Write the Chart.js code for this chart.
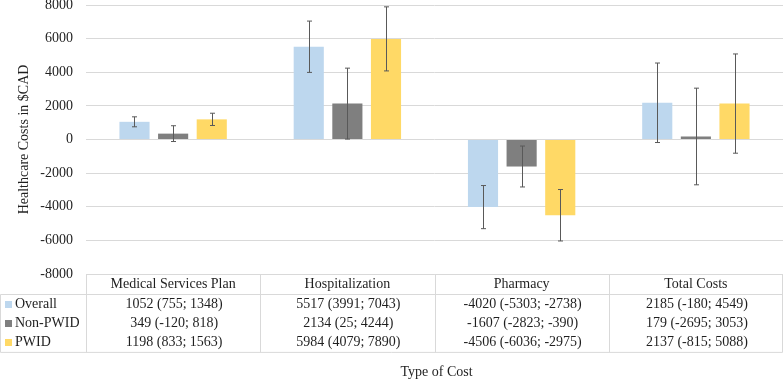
<!DOCTYPE html>
<html>
<head>
<meta charset="utf-8">
<script src="https://cdn.jsdelivr.net/npm/chart.js@4"></script>
<style>
  html, body { margin: 0; padding: 0; background: #ffffff; }
  #wrap { width: 783px; height: 379px; position: relative; }
</style>
</head>
<body>
<div id="wrap"><canvas id="c" width="783" height="379"></canvas></div>
<script>
const categories = ['Medical Services Plan', 'Hospitalization', 'Pharmacy', 'Total Costs'];
const seriesNames = ['Overall', 'Non-PWID', 'PWID'];

const overall     = [1052, 5517, -4020, 2185];
const overallLow  = [755, 3991, -5303, -180];
const overallHigh = [1348, 7043, -2738, 4549];

const nonPwid     = [349, 2134, -1607, 179];
const nonPwidLow  = [-120, 25, -2823, -2695];
const nonPwidHigh = [818, 4244, -390, 3053];

const pwid     = [1198, 5984, -4506, 2137];
const pwidLow  = [833, 4079, -6036, -815];
const pwidHigh = [1563, 7890, -2975, 5088];

const yTicks = [-8000, -6000, -4000, -2000, 0, 2000, 4000, 6000, 8000];

const colors = ['#BDD7EE', '#7F7F7F', '#FFD966'];
const FONT = "'Liberation Serif', 'Times New Roman', serif";
const TEXT = '#1f1f1f';
const GRID = '#D9D9D9';

const seriesVals = [overall, nonPwid, pwid];
const seriesLow = [overallLow, nonPwidLow, pwidLow];
const seriesHigh = [overallHigh, nonPwidHigh, pwidHigh];

const errorBars = {
  id: 'errorBars',
  afterDatasetsDraw(chart) {
    const ctx = chart.ctx;
    const y = chart.scales.y;
    ctx.save();
    ctx.strokeStyle = '#595959';
    ctx.lineWidth = 1;
    chart.data.datasets.forEach((ds, di) => {
      const meta = chart.getDatasetMeta(di);
      meta.data.forEach((bar, i) => {
        const x = Math.round(bar.x) + 0.5;
        const yl = y.getPixelForValue(seriesLow[di][i]);
        const yh = y.getPixelForValue(seriesHigh[di][i]);
        ctx.beginPath();
        ctx.moveTo(x, yl); ctx.lineTo(x, yh);
        ctx.moveTo(x - 2.5, yl); ctx.lineTo(x + 2.5, yl);
        ctx.moveTo(x - 2.5, yh); ctx.lineTo(x + 2.5, yh);
        ctx.stroke();
      });
    });
    ctx.restore();
  }
};

const dataTable = {
  id: 'dataTable',
  afterDraw(chart) {
    const ctx = chart.ctx;
    const xs = chart.scales.x;
    const area = chart.chartArea;
    const n = categories.length;
    const step = (area.right - area.left) / n;
    const top = Math.round(area.bottom) + 0.5;
    const headerH = 20;
    const rowH = 19.3;
    const bottom = top + headerH + rowH * seriesNames.length;
    const right = 782.5;
    ctx.save();
    ctx.strokeStyle = GRID;
    ctx.lineWidth = 1;
    ctx.beginPath();
    ctx.moveTo(Math.round(area.left) + 0.5, top); ctx.lineTo(right, top);
    ctx.moveTo(0.5, top + headerH); ctx.lineTo(right, top + headerH);
    ctx.moveTo(0.5, bottom); ctx.lineTo(right, bottom);
    ctx.moveTo(0.5, top + headerH); ctx.lineTo(0.5, bottom);
    for (let i = 0; i <= n; i++) {
      const xv = i === n ? right : Math.round(area.left + step * i) + 0.5;
      ctx.moveTo(xv, top); ctx.lineTo(xv, bottom);
    }
    ctx.stroke();

    ctx.fillStyle = TEXT;
    ctx.font = '14px ' + FONT;
    ctx.textAlign = 'center';
    ctx.textBaseline = 'middle';
    categories.forEach((c, i) => {
      const cx = xs.getPixelForValue(i);
      ctx.fillText(c, cx, top + headerH / 2);
    });
    seriesNames.forEach((s, r) => {
      const cy = top + headerH + rowH * r + rowH / 2;
      ctx.fillStyle = colors[r];
      ctx.fillRect(5, Math.round(cy - 3.5), 7, 7);
      ctx.fillStyle = TEXT;
      ctx.textAlign = 'left';
      ctx.fillText(s, 15, cy);
      ctx.textAlign = 'center';
      categories.forEach((c, i) => {
        const cx = xs.getPixelForValue(i);
        const txt = seriesVals[r][i] + ' (' + seriesLow[r][i] + '; ' + seriesHigh[r][i] + ')';
        ctx.fillText(txt, cx + 1, cy);
      });
    });
    ctx.fillText('Type of Cost', (area.left + area.right) / 2 + 2, 372);
    ctx.restore();
  }
};

new Chart(document.getElementById('c'), {
  type: 'bar',
  data: {
    labels: categories,
    datasets: seriesNames.map((name, i) => ({
      label: name,
      data: seriesVals[i],
      backgroundColor: colors[i],
      borderWidth: 0,
      categoryPercentage: 0.665,
      barPercentage: 0.78
    }))
  },
  options: {
    responsive: false,
    animation: false,
    devicePixelRatio: 1,
    layout: { padding: { top: 5, bottom: 105, left: 0, right: 0 } },
    plugins: { legend: { display: false }, tooltip: { enabled: false } },
    scales: {
      x: { display: false },
      y: {
        min: -8000, max: 8000,
        afterBuildTicks(scale) { scale.ticks = yTicks.map(v => ({ value: v })); },
        afterFit(scale) {
          scale.width = 86;
          scale.paddingTop = 0;
          scale.paddingBottom = 0;
        },
        border: { display: false },
        grid: { color: GRID, lineWidth: 1, drawTicks: false },
        ticks: {
          padding: 13,
          color: TEXT,
          font: { family: FONT, size: 14 },
          callback: v => String(v)
        },
        title: {
          display: true,
          text: 'Healthcare Costs in $CAD',
          color: TEXT,
          font: { family: FONT, size: 14 },
          padding: { top: 16, bottom: 0 }
        }
      }
    }
  },
  plugins: [errorBars, dataTable]
});
</script>
</body>
</html>
